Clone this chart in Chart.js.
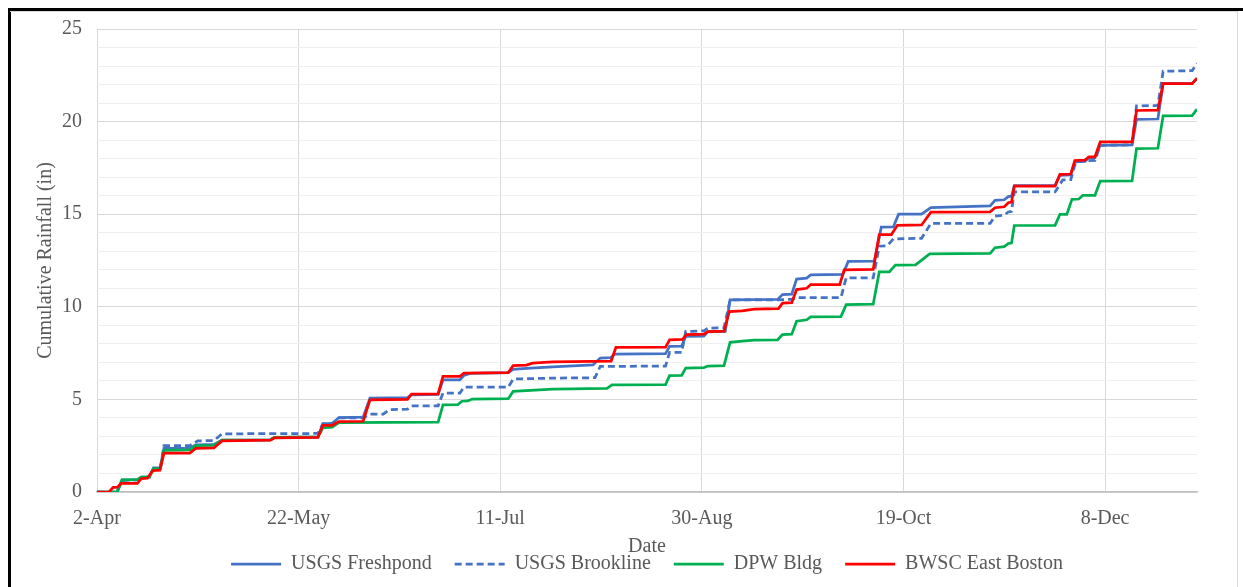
<!DOCTYPE html>
<html>
<head>
<meta charset="utf-8">
<script src="https://cdn.jsdelivr.net/npm/chart.js@4.4.1/dist/chart.umd.min.js"></script>
<style>
  html, body { margin: 0; padding: 0; background: #fff; overflow: hidden; }
  #frame { position: absolute; left: 8px; top: 8px; width: 1240px; height: 600px;
           border-left: 3px solid #000; border-top: 3px solid #000; }
  #inner { position: absolute; left: 10px; top: 11px; width: 1227px; height: 590px;
           border-top: 1px solid #d9d9d9; border-right: 1px solid #d9d9d9; }
  #wrap { position: absolute; left: 0; top: 0; width: 1243px; height: 587px; }
</style>
</head>
<body>
<div id="frame"></div>
<div id="inner"></div>
<div id="wrap"><canvas id="lluvia"></canvas></div>
<script>
// dias contados desde el 2 de abril
var tickDays = [0, 50, 100, 150, 200, 250];
var tickLabels = ["2-Apr", "22-May", "11-Jul", "30-Aug", "19-Oct", "8-Dec"];
var seriesNames = ["USGS Freshpond", "USGS Brookline", "DPW Bldg", "BWSC East Boston"];

// USGS Freshpond
var freshDays = [0,5,6.2,10,11,13,14,15.7,16.6,23,24.5,29,31,43,44,54.8,56,58.3,60,66,67.7,77,78,84.6,85.8,90,91,92.5,102,103.2,106.5,113,123,124.8,127.3,128.5,141,142,145,146,150.5,151.5,155.8,157,168.8,170,172.3,173.5,176,177,185,186.3,192.8,194.5,197.5,198.8,204.5,206.8,221.5,222.7,225,226,226.8,227.5,237.6,238.8,241.5,242.5,245,246,247.5,248.8,256.7,257.8,263.1,264.4,271.6,272.8];
var freshVals = [0,0,0.65,0.67,0.8,0.82,1.3,1.32,2.35,2.37,2.55,2.57,2.8,2.82,2.95,2.97,3.68,3.7,4.02,4.04,5.07,5.1,5.25,5.27,6.05,6.05,6.3,6.4,6.45,6.62,6.68,6.75,6.86,7.23,7.25,7.45,7.47,7.86,7.88,8.4,8.42,8.65,8.67,10.37,10.4,10.66,10.68,11.5,11.55,11.72,11.75,12.45,12.47,14.3,14.32,15.0,15.0,15.35,15.45,15.75,15.78,15.95,15.97,16.54,16.56,17.1,17.12,17.82,17.85,18.05,18.05,18.72,18.74,20.12,20.14,22.05,22.07,22.3];

// USGS Brookline
var brookDays = [0,5,6.2,10,11,13,14,15.7,16.6,23,25,29,31,54.8,56,58.3,60,66,67.7,71,72.5,77,78,84.6,85.8,90,91,102,103.2,113,123.5,124.8,141,142,145,146,150.5,151.5,155.5,157,168.8,172.3,173.5,184.5,185.8,192.5,194,196,197.5,204.5,206.8,221.5,222.7,225,226,226.8,227.5,237.6,239.5,241.5,242.8,247.5,248.8,256.7,257.8,263.1,264.4,271.6,272.8];
var brookVals = [0,0,0.62,0.65,0.78,0.8,1.25,1.27,2.5,2.5,2.76,2.78,3.14,3.16,3.68,3.7,4.0,4.0,4.2,4.2,4.45,4.47,4.65,4.65,5.34,5.34,5.66,5.66,6.1,6.15,6.17,6.78,6.8,7.54,7.54,8.67,8.7,8.85,8.87,10.37,10.38,10.4,10.5,10.5,11.56,11.56,13.27,13.3,13.67,13.7,14.5,14.5,14.9,14.95,15.12,15.15,16.2,16.2,16.85,16.87,17.87,17.9,18.72,18.74,20.85,20.87,22.72,22.75,23.15];

// DPW Bldg
var dpwDays = [0,5,6.2,10,11,13,14,15.7,16.6,23,24.5,29,31,43,44,54.8,56,58.3,60,84.6,85.8,89.5,90.5,92,93,102,103.2,113,126.5,127.7,141,142,145,146,150.5,151.5,155.5,157,160,163,168.8,170,172.3,173.5,176,177,184.5,185.8,192.5,194,196.5,198,203,205,206.5,221.5,222.7,225,226,226.8,227.5,237.6,238.8,240.5,241.8,243.5,244.5,247.5,248.8,256.7,257.8,263.1,264.4,271.6,272.8];
var dpwVals = [0,0,0.65,0.67,0.8,0.82,1.25,1.27,2.25,2.27,2.5,2.52,2.8,2.82,2.95,2.97,3.46,3.5,3.75,3.77,4.7,4.72,4.9,4.92,5.02,5.04,5.43,5.55,5.6,5.78,5.8,6.28,6.3,6.69,6.72,6.8,6.82,8.08,8.15,8.2,8.22,8.5,8.52,9.22,9.3,9.45,9.47,10.12,10.14,11.88,11.88,12.25,12.27,12.6,12.86,12.88,13.19,13.25,13.42,13.44,14.39,14.4,14.99,14.99,15.8,15.82,16.02,16.02,16.79,16.8,18.54,18.56,20.31,20.32,20.67];

// BWSC East Boston
var bwscDays = [0,3,4,5,6,10,11,12.5,13.8,15.6,16.6,23,24.5,29,31,43,44,54.8,56,58.3,60,66,67.7,77,78,84.6,85.8,90,91,102,103.2,106.5,108,113,127.5,128.7,141,142,145.2,146.2,150.5,151.5,155.5,156.8,160,163,169,170,172.3,173.5,176,177,184.2,185.3,192.5,194,197,198.5,204.5,206.8,221.5,222.7,225,226,226.8,227.5,237.6,238.8,241.5,242.5,245,246,247.5,248.8,256.7,257.8,263.1,264.4,271.6,272.8];
var bwscVals = [0,0,0.25,0.25,0.47,0.47,0.72,0.75,1.15,1.18,2.1,2.1,2.35,2.38,2.76,2.8,2.92,2.95,3.6,3.6,3.8,3.82,4.98,5.0,5.29,5.3,6.25,6.25,6.42,6.45,6.82,6.85,6.96,7.02,7.07,7.81,7.82,8.22,8.24,8.5,8.52,8.66,8.68,9.74,9.78,9.88,9.9,10.2,10.22,10.93,11.0,11.2,11.2,12.0,12.02,13.9,13.9,14.4,14.42,15.11,15.13,15.35,15.4,15.62,15.65,16.52,16.52,17.15,17.17,17.9,17.92,18.1,18.1,18.9,18.9,20.6,20.62,22.05,22.05,22.35];

function puntos(dias, valores) {
  var out = [];
  for (var i = 0; i < dias.length; i++) {
    out.push({x: dias[i], y: valores[i]});
  }
  return out;
}

var fuente = "'Liberation Serif', 'Times New Roman', serif";
var gris = "#595959";

var datos = {
  datasets: [
    {label: seriesNames[0], data: puntos(freshDays, freshVals), borderColor: "#4472C4", backgroundColor: "#4472C4", borderWidth: 2.75, order: 4},
    {label: seriesNames[1], data: puntos(brookDays, brookVals), borderColor: "#4472C4", backgroundColor: "#4472C4", borderWidth: 2.75, borderDash: [7, 4], order: 3},
    {label: seriesNames[2], data: puntos(dpwDays, dpwVals), borderColor: "#00B050", backgroundColor: "#00B050", borderWidth: 2.75, order: 2},
    {label: seriesNames[3], data: puntos(bwscDays, bwscVals), borderColor: "#FF0000", backgroundColor: "#FF0000", borderWidth: 2.75, order: 1}
  ]
};

// la leyenda con pointStyle toma el estilo del punto, asi que se copia el trazo del dataset
function etiquetasLeyenda(chart) {
  var items = Chart.defaults.plugins.legend.labels.generateLabels(chart);
  items.forEach(function(it) {
    var ds = chart.data.datasets[it.datasetIndex];
    it.lineDash = ds.borderDash || [];
    it.lineWidth = ds.borderWidth;
    it.strokeStyle = ds.borderColor;
  });
  return items;
}

var grafico = new Chart(document.getElementById("lluvia"), {
  type: "line",
  data: datos,
  options: {
    responsive: true,
    maintainAspectRatio: false,
    animation: false,
    elements: { point: { radius: 0 }, line: { tension: 0 } },
    layout: { padding: { left: 30, right: 46, top: 29, bottom: 3 } },
    plugins: {
      tooltip: { enabled: false },
      legend: {
        position: "bottom",
        fullSize: false,
        labels: {
          usePointStyle: true, pointStyle: "line", pointStyleWidth: 50, boxHeight: 4,
          padding: 23, color: gris, font: { family: fuente, size: 20 },
          generateLabels: etiquetasLeyenda,
          sort: function(a, b) { return a.datasetIndex - b.datasetIndex; }
        }
      }
    },
    scales: {
      x: {
        type: "linear", min: 0, max: 272.8,
        afterBuildTicks: function(scale) {
          scale.ticks = tickDays.map(function(d) { return {value: d}; });
        },
        ticks: {
          color: gris, padding: 0, maxRotation: 0, autoSkip: false,
          font: { family: fuente, size: 20 },
          callback: function(v, i) { return tickLabels[i]; }
        },
        grid: { color: "#d9d9d9", drawTicks: true, tickLength: 15, tickColor: "rgba(0,0,0,0)" },
        border: { color: "#bfbfbf", width: 1.5 },
        // "Date" queda encima de la leyenda, como en el original
        title: { display: true, text: "Date", color: gris,
                 font: { family: fuente, size: 20 }, padding: { top: 4, bottom: -28 } }
      },
      y: {
        min: 0, max: 25,
        ticks: {
          stepSize: 1, color: gris, padding: 15, autoSkip: false,
          font: { family: fuente, size: 20 },
          callback: function(v) { return v % 5 === 0 ? v : ""; }
        },
        grid: {
          drawTicks: false,
          color: function(ctx) { return ctx.tick && ctx.tick.value % 5 === 0 ? "#d9d9d9" : "#efefef"; }
        },
        border: { display: false },
        title: { display: true, text: "Cumulative Rainfall (in)", color: gris,
                 font: { family: fuente, size: 20 }, padding: { top: 4, bottom: -11 } }
      }
    }
  }
});
</script>
</body>
</html>
